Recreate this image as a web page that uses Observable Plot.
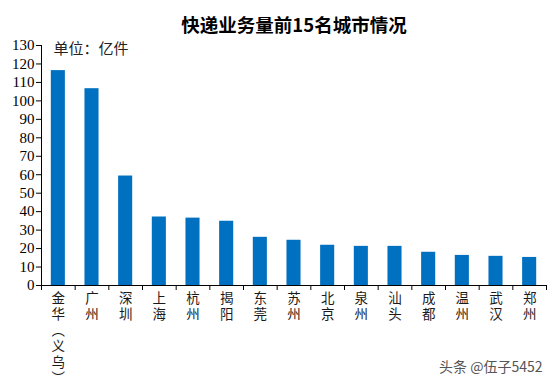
<!DOCTYPE html>
<html>
<head>
<meta charset="utf-8">
<script src="https://cdn.jsdelivr.net/npm/d3@7"></script>
<script src="https://cdn.jsdelivr.net/npm/@observablehq/plot@0.6"></script>
<style>
  html, body { margin: 0; padding: 0; background: #fff; }
  #chart { position: relative; width: 554px; height: 389px; }
</style>
</head>
<body>
<div id="chart"></div>
<script>
const cities = ["金华︵义乌︶", "广州", "深圳", "上海", "杭州", "揭阳", "东莞", "苏州", "北京", "泉州", "汕头", "成都", "温州", "武汉", "郑州"];
const volumes = [116.4, 106.6, 59.3, 37.1, 36.5, 34.8, 26.1, 24.5, 21.8, 21.2, 21.2, 18.0, 16.3, 15.8, 15.2];
const yTicks = [0, 10, 20, 30, 40, 50, 60, 70, 80, 90, 100, 110, 120, 130];
const title = "快递业务量前15名城市情况";
const unitLabel = "单位：亿件";
const watermark = "头条 @伍子5452";

const data = cities.map((c, i) => ({city: c, i, value: volumes[i]}));

const plot = Plot.plot({
  width: 554,
  height: 389,
  marginLeft: 41,
  marginRight: 8,
  marginTop: 45,
  marginBottom: 104,
  style: {fontFamily: "'Liberation Serif', 'Noto Sans CJK SC', serif", background: "#fff", color: "#000"},
  x: {type: "linear", domain: [0, cities.length], axis: null},
  y: {domain: [0, 130], axis: null},
  marks: [
    Plot.rectY(data, {x1: "i", x2: d => d.i + 1, y: "value", fill: "#0070c0", insetLeft: 9.8, insetRight: 9.8}),
    Plot.axisY({ticks: yTicks, tickSize: 5, tickPadding: 2, fontSize: 15, stroke: "#000", fill: "#000", label: null, fontFamily: "'Liberation Serif', serif"}),
    Plot.axisX({ticks: d3.range(cities.length + 1), tickSize: 5, tickFormat: () => "", stroke: "#000", label: null}),
    Plot.ruleX([0], {stroke: "#000"}),
    Plot.ruleY([0], {stroke: "#000"}),
    Plot.text(data, {x: d => d.i + 0.5, y: 0, text: "city", textAnchor: "start", lineAnchor: "top", dy: -4, fontSize: 13.5, fill: "#1a1a1a", fontFamily: "'Noto Sans CJK SC'"}),
    Plot.text([title], {frameAnchor: "top", dy: -19, lineAnchor: "middle", fontSize: 18.5, fontWeight: "bold", fill: "#000", fontFamily: "'Noto Sans CJK SC', serif"}),
    Plot.text([unitLabel], {frameAnchor: "top-left", dx: 12, dy: 4, lineAnchor: "middle", textAnchor: "start", fontSize: 15, fill: "#222", fontFamily: "'Noto Sans CJK SC', sans-serif"}),
    Plot.text([watermark], {frameAnchor: "bottom-right", dx: -4, dy: 82, lineAnchor: "middle", textAnchor: "end", fontSize: 14, fill: "#555", fontFamily: "'Noto Sans CJK SC', sans-serif"})
  ]
});
d3.select(plot).selectAll("text")
  .filter(function() { return cities.includes(this.textContent); })
  .style("writing-mode", "vertical-rl")
  .style("text-orientation", "upright")
  .style("letter-spacing", "2.5px");
document.getElementById("chart").appendChild(plot);
</script>
</body>
</html>
